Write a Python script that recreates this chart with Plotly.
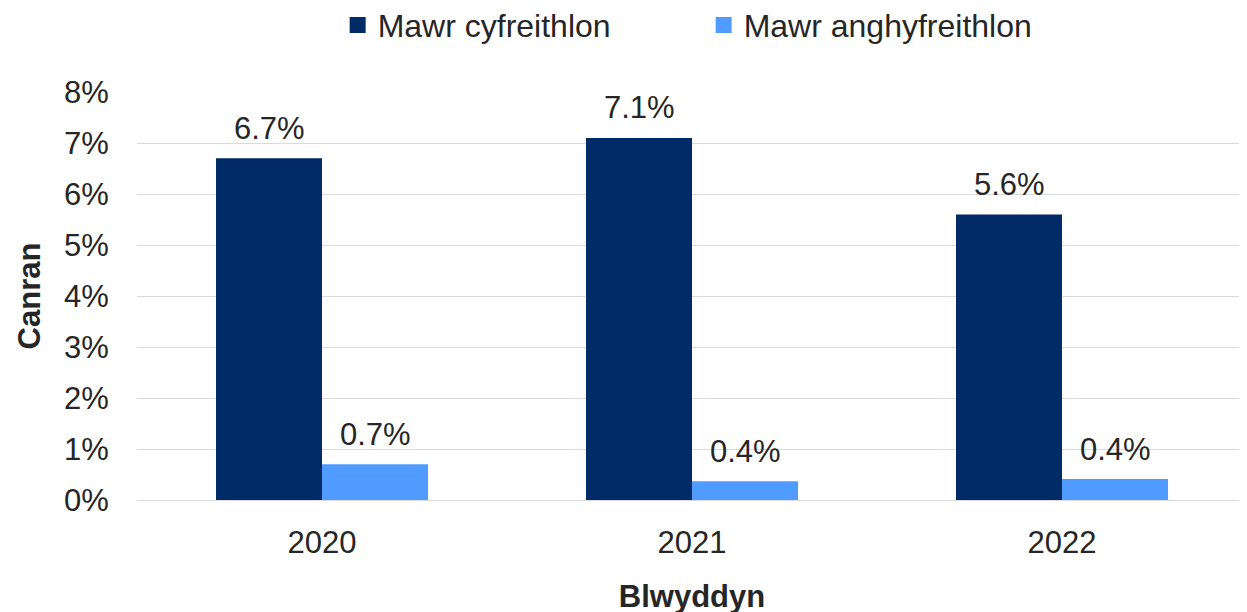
import plotly.graph_objects as go

years = ["2020", "2021", "2022"]
legal = [6.7, 7.1, 5.6]
illegal = [0.7, 0.37, 0.41]
series_names = ["Mawr cyfreithlon", "Mawr anghyfreithlon"]
y_ticks = [0, 1, 2, 3, 4, 5, 6, 7, 8]
y_tick_labels = [f"{v}%" for v in y_ticks]

colors = ["#002B67", "#4F9BFF"]
FONT = "Liberation Sans, Arial, sans-serif"
FS = 31

fig = go.Figure()
for name, vals, col in zip(series_names, [legal, illegal], colors):
    fig.add_trace(go.Bar(x=years, y=vals, name=name, legendgroup=name, showlegend=False,
                         marker=dict(color=col, line=dict(width=0))))
# legend entries with square swatches
for name, col in zip(series_names, colors):
    fig.add_trace(go.Scatter(x=[None], y=[None], mode="markers", name=name, legendgroup=name,
                             marker=dict(symbol="square", size=16, color=col), hoverinfo="skip"))

# data labels (category index positions on the category axis)
for vals, shift in [(legal, -53), (illegal, 53)]:
    for idx, v in enumerate(vals):
        fig.add_annotation(x=idx, y=v, text=f"{v:.1f}%", showarrow=False, xshift=shift, yshift=30,
                           yanchor="middle", font=dict(family=FONT, size=FS, color="#262626"))

fig.update_layout(
    barmode="group",
    bargap=0.427,
    bargroupgap=0,
    width=1247, height=612,
    margin=dict(l=129, r=8, t=84, b=120, autoexpand=False),
    paper_bgcolor="white", plot_bgcolor="white",
    font=dict(family=FONT, size=FS, color="#262626"),
    legend=dict(orientation="h", x=0.5105, xanchor="center", y=1.164, yanchor="middle",
                font=dict(family=FONT, size=32, color="#262626"), itemwidth=30,
                entrywidth=321, entrywidthmode="pixels",
                traceorder="normal", bgcolor="rgba(0,0,0,0)"),
    showlegend=True,
)
fig.update_yaxes(range=[0, 8], tickvals=y_ticks, ticktext=y_tick_labels,
                 showgrid=True, gridcolor="#D9D9D9", gridwidth=1.3, zeroline=True,
                 zerolinecolor="#D9D9D9", zerolinewidth=1.3, showline=False,
                 ticks="outside", ticklen=21, tickcolor="rgba(0,0,0,0)",
                 tickfont=dict(family=FONT, size=FS, color="#262626"),
                 title=dict(text="<b>Canran</b>", standoff=14, font=dict(family=FONT, size=FS, color="#262626")))
fig.update_xaxes(type="category", range=[-0.5, len(years) - 0.5],
                 showgrid=False, showline=False, ticks="outside", ticklen=15,
                 tickcolor="rgba(0,0,0,0)",
                 tickfont=dict(family=FONT, size=FS, color="#262626"),
                 title=dict(text="<b>Blwyddyn</b>", standoff=26, font=dict(family=FONT, size=FS, color="#262626")))

fig.write_html("out.html")
